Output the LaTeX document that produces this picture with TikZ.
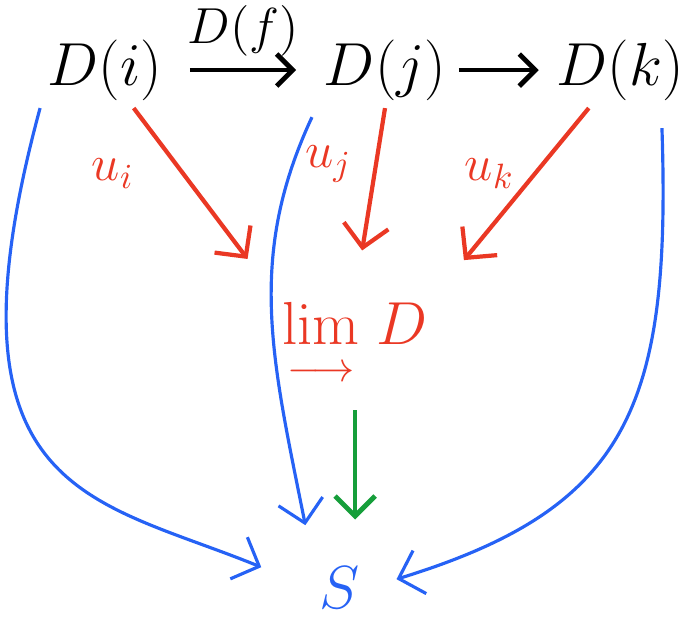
\documentclass[tikz,border=0pt]{standalone}
\usepackage{amsmath, amssymb}
\usetikzlibrary{arrows.meta}
\definecolor{inkred}{RGB}{234,56,36}
\definecolor{inkblue}{RGB}{38,98,245}
\definecolor{inkgreen}{RGB}{22,158,58}

\begin{document}
\begin{tikzpicture}[x=0.01cm, y=-0.01cm,
  obj/.style={font=\LARGE, inner sep=2pt},
  map/.style={-{Straight Barb[length=1.6mm,width=3.2mm]}, line width=1.4pt,
    shorten <=2mm, shorten >=2mm},
  cone/.style={-{Straight Barb[length=2.2mm,width=4.5mm]}, inkred, line width=1.2pt,
    shorten >=4.5mm},
  leg/.style={-{Straight Barb[length=2.2mm,width=4.5mm]}, inkblue, line width=0.9pt},
  lab/.style={font=\Large, inkred}]
  \useasboundingbox (0,0) rectangle (689,620);
  % objects
  \node[obj] (Di) at (105,70) {$D(i)$};
  \node[obj] (Dj) at (385,70) {$D(j)$};
  \node[obj] (Dk) at (620,70) {$D(k)$};
  \node[obj, inkred] (lim) at (355,345) {$\underset{\longrightarrow}{\lim}\;D$};
  \node[obj, inkblue] (S) at (340,588) {$S$};
  % the diagram
  \draw[map] (Di) -- node[above, font=\Large] {$D(f)$} (Dj);
  \draw[map, shorten <=0.5mm, shorten >=1mm] (Dj) -- (Dk);
  % limit cone
  \draw[cone] (Di) -- node[lab, pos=.35, left=10pt] {$u_i$} (lim.north west);
  \draw[cone] (Dj.south) -- node[lab, pos=.3, left=3pt] {$u_j$} (lim.north);
  \draw[cone] (Dk) -- node[lab, pos=.35, left=2pt] {$u_k$} (lim.north east);
  % cone over S
  \draw[leg, shorten >=5.5mm] (Di.south west) .. controls +(-105,388) and +(-220,-90) .. (S.west);
  \draw[leg, shorten <=1mm, shorten >=3.5mm] (Dj.south west) .. controls +(-70,150) and +(-40,-200) .. (S.north west);
  \draw[leg, shorten <=2mm, shorten >=3mm] ([xshift=-3mm]Dk.south east) .. controls +(10,300) and +(260,-80) .. (S.east);
  \draw[-{Straight Barb[length=2mm,width=4mm]}, inkgreen, line width=1.4pt,
    shorten <=1.5mm, shorten >=4mm] (lim.south) -- (lim.south |- S.north);
\end{tikzpicture}
\end{document}
